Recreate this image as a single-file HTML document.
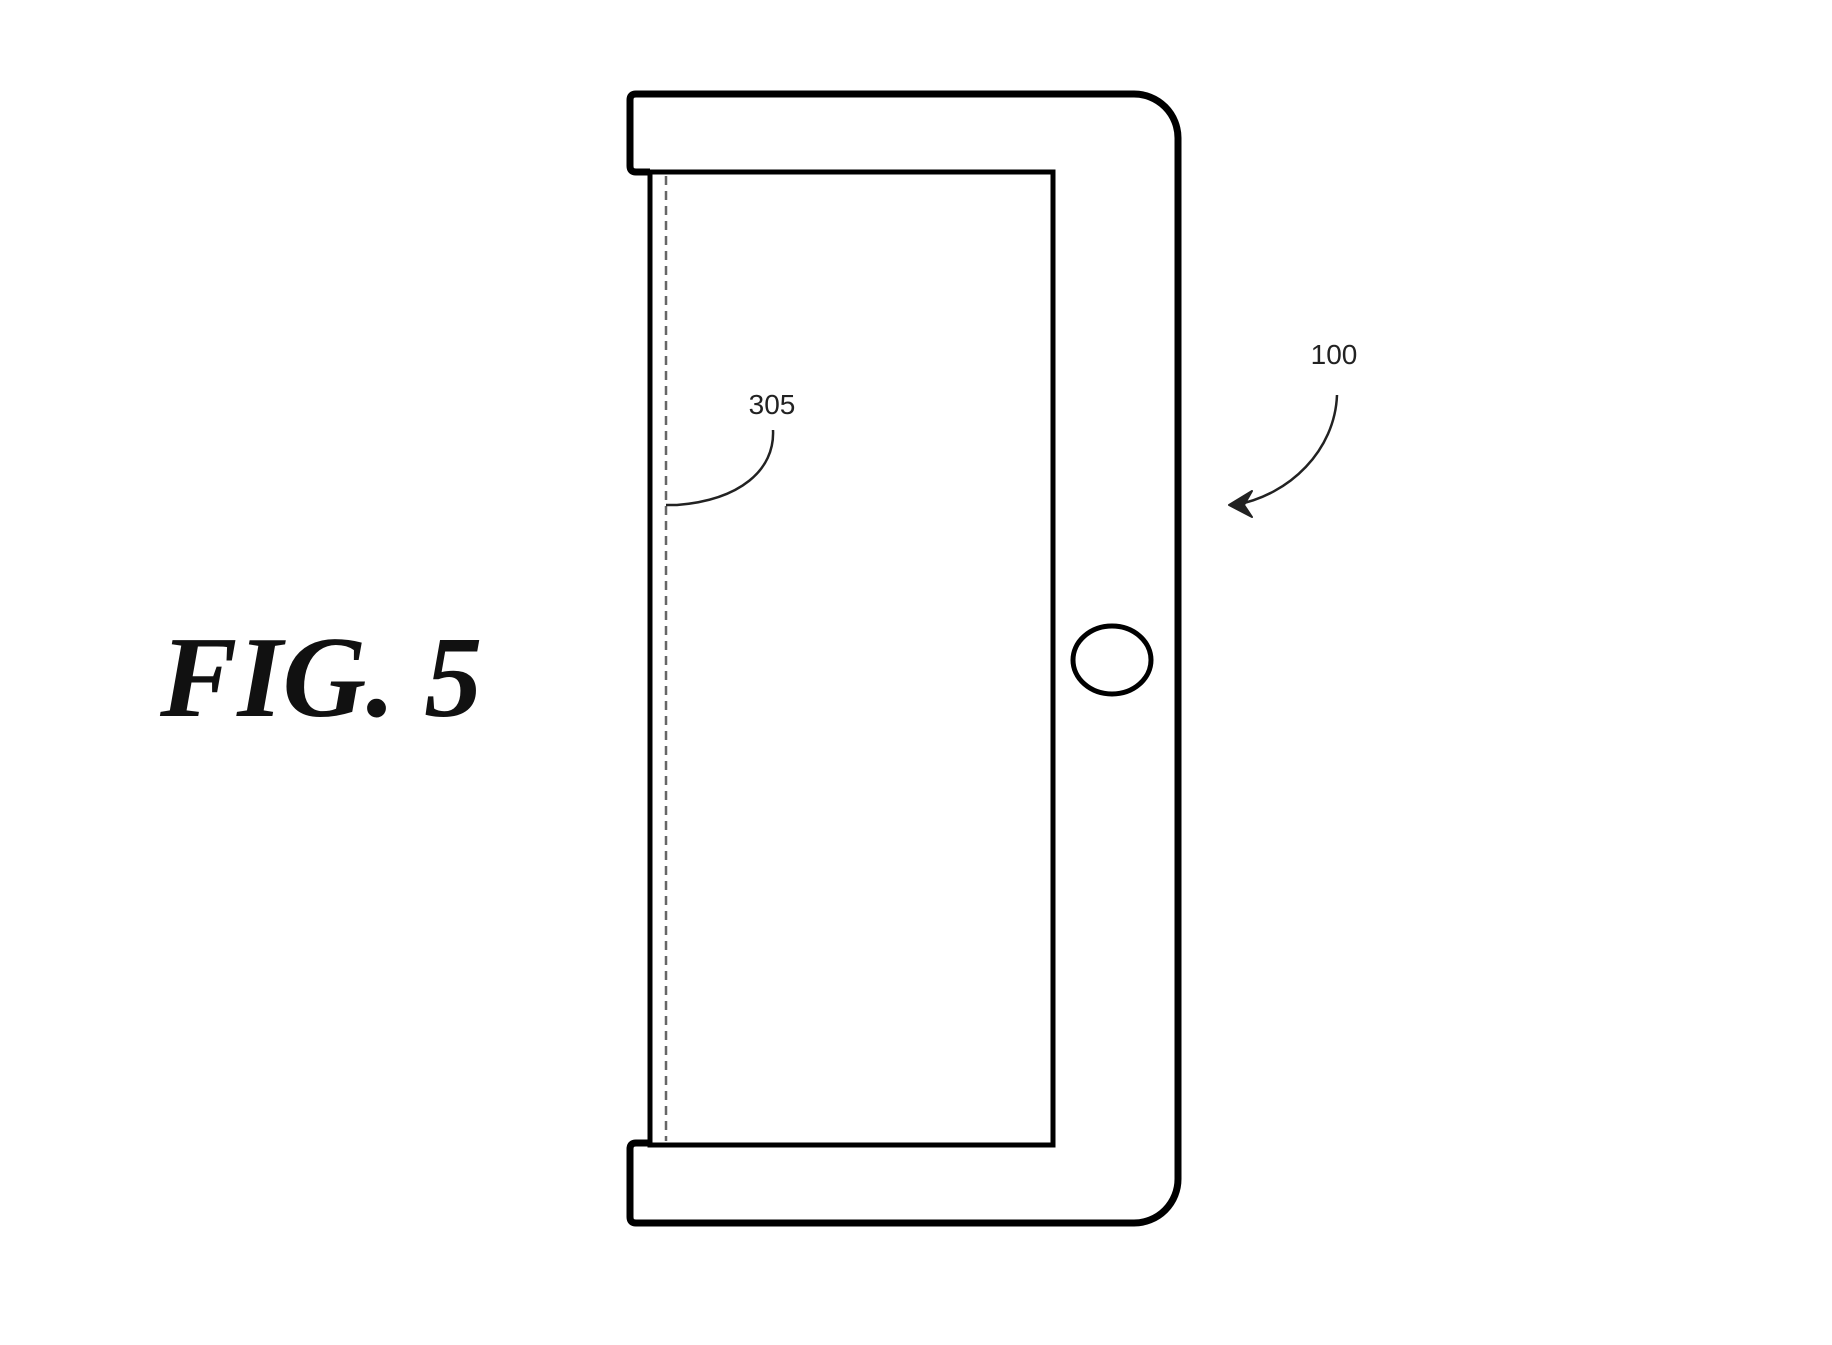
<!DOCTYPE html>
<html><head><style>html,body{margin:0;padding:0;background:#fff;}svg{display:block}</style></head>
<body>
<svg width="1832" height="1345" viewBox="0 0 1832 1345" xmlns="http://www.w3.org/2000/svg">
<path d="M650,172 L636,172 Q630,172 630,166 L630,100 Q630,94 636,94 L1134,94 A44,44 0 0 1 1178,138 L1178,1179 A44,44 0 0 1 1134,1223 L636,1223 Q630,1223 630,1217 L630,1149 Q630,1143 636,1143 L650,1143" fill="none" stroke="#000" stroke-width="7" stroke-linejoin="round"/>
<path d="M650,172 L1053,172 L1053,1145 L650,1145 Z" fill="none" stroke="#000" stroke-width="5"/>
<line x1="666" y1="176" x2="666" y2="1141" stroke="#666" stroke-width="2.5" stroke-dasharray="9,6"/>
<ellipse cx="1112" cy="660" rx="39" ry="34" fill="none" stroke="#000" stroke-width="5"/>
<path d="M666,505 L677,505 C740,500 775,470 773,430" fill="none" stroke="#222" stroke-width="2.5"/>
<path d="M1337,395 C1335,450 1290,495 1235,505" fill="none" stroke="#222" stroke-width="2.5"/>
<path d="M1252,491 L1229,505 L1252,517 L1244,505 Z" fill="#222" stroke="#222" stroke-width="2" stroke-linejoin="round"/>
<text x="772" y="414" font-family="Liberation Sans, sans-serif" font-size="28" text-anchor="middle" fill="#222">305</text>
<text x="1334" y="364" font-family="Liberation Sans, sans-serif" font-size="28" text-anchor="middle" fill="#222">100</text>
<text x="160" y="716" font-family="Liberation Serif, serif" font-size="116" font-weight="bold" font-style="italic" fill="#111">FIG. 5</text>
</svg>
</body></html>
